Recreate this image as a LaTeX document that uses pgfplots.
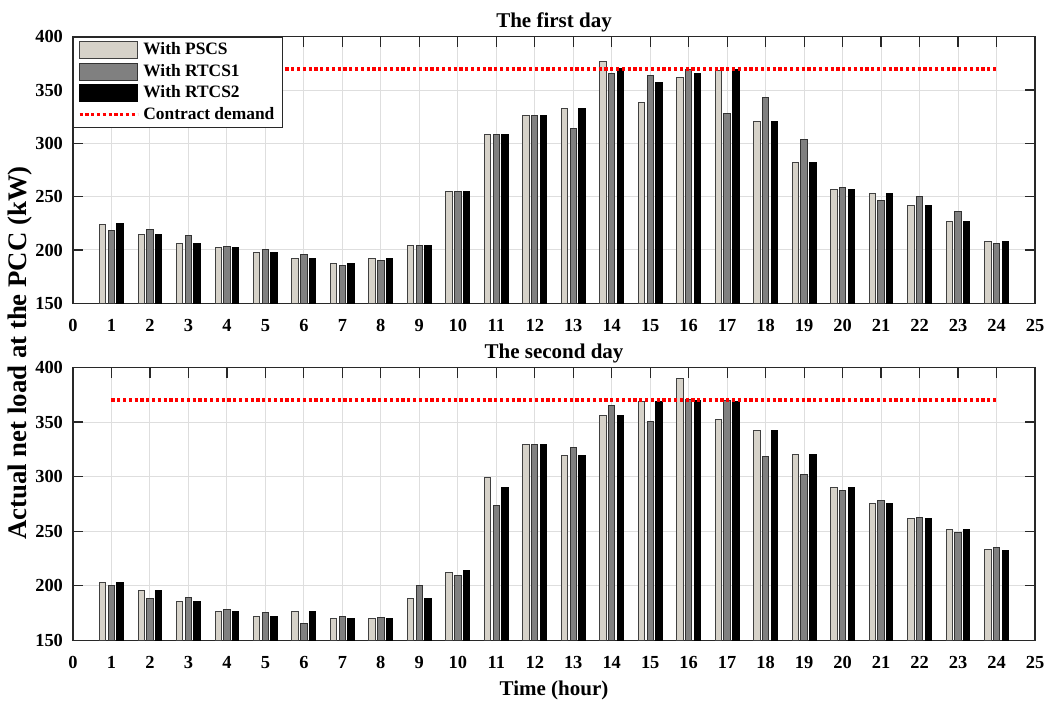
\documentclass[border=0pt]{standalone}
\usepackage{fontspec}
\setmainfont{Liberation Serif}
\usepackage{pgfplots}
\usepackage{pgfplotstable}
\pgfplotsset{compat=1.18}
\definecolor{cPS}{RGB}{214,210,201}
\definecolor{cR1}{RGB}{128,128,128}
\definecolor{gridc}{RGB}{222,222,222}
\definecolor{axc}{RGB}{40,40,40}

\pgfplotstableread{
h p r1 r2
1 224 218 224.5
2 214.7 219.4 214.7
3 206.5 213.7 206.5
4 202.2 203.4 202.2
5 197.2 200.6 197.2
6 192.2 196 192.2
7 187.5 185.6 187.5
8 192.2 190.6 192.2
9 204 204 204
10 254.5 254.5 254.5
11 308 308 308
12 326.5 326.5 326.5
13 332.8 313.7 332.8
14 376.5 365.9 369.8
15 338.4 363.4 357.2
16 361.5 369.6 365.6
17 368.5 328 369
18 320.3 342.8 320.3
19 281.8 304 281.8
20 257 258.7 257
21 253.1 246.6 253.1
22 241.5 250.6 241.5
23 226.9 235.9 226.9
24 207.8 206.2 207.8
}\dayone

\pgfplotstableread{
h p r1 r2
1 202.8 200 202.8
2 195.4 188.7 195.4
3 185.6 189.3 185.6
4 176.5 178.3 176.5
5 171.5 175.8 171.5
6 176.8 165.4 176.8
7 170 171.5 170.2
8 169.7 170.6 170
9 188 200 188
10 212 209 214
11 299.3 273.3 290.4
12 329 329.6 329
13 319.8 326.6 319.8
14 356.3 364.9 356.3
15 369.1 350.4 369
16 390.3 370.4 370
17 352.6 370 369
18 341.9 318.9 341.9
19 320.4 302.4 320.4
20 290.4 287.3 290.4
21 275.1 277.8 275.1
22 261.3 262.9 261.3
23 251.5 249.1 251.2
24 232.8 234.9 232.5
}\daytwo

\pgfplotsset{
  myaxis/.style={
    scale only axis, width=481pt,
    xmin=0, xmax=25, ymin=150, ymax=400,
    xtick={0,1,...,25}, ytick={150,200,...,400},
    grid=major, grid style={gridc, line width=0.5pt},
    tick align=inside, tick pos=both, major tick length=5pt,
    axis line style={axc, line width=0.6pt},
    every tick/.style={axc, line width=0.6pt},
    tick label style={font=\fontsize{9.2}{10}\selectfont\bfseries},
    /pgf/number format/assume math mode=true,
    xticklabel style={yshift=-4.5pt},
    yticklabel style={xshift=-1.5pt},
    title style={at={(0.5,1)}, anchor=base, yshift=-1.3pt, font=\fontsize{10.5}{12}\selectfont\bfseries},
    legend image code/.code={\draw[##1] (0pt,-4.25pt) rectangle (29pt,4.25pt);},
  },
  barA/.style={ybar, bar width=3.2pt, bar shift=-4.35pt, fill=cPS, draw=black!75, line width=0.5pt},
  barB/.style={ybar, bar width=3.2pt, bar shift=0pt, fill=cR1, draw=black!80, line width=0.5pt},
  barC/.style={ybar, bar width=3.2pt, bar shift=4.35pt, fill=black, draw=black, line width=0.5pt},
  cline/.style={red, line width=1.9pt, dash pattern=on 1.6pt off 1.3pt,
    legend image code/.code={\draw[##1] (0pt,0pt) -- (29pt,0pt);}},
}

\begin{document}
\begin{tikzpicture}
\useasboundingbox (0,0) rectangle (523.5pt,351pt);
\begin{axis}[myaxis, height=133.3pt, at={(36.5pt,199.35pt)}, anchor=south west,
  title={The first day},
  legend style={at={(0,1)}, anchor=north west, draw=axc, line width=0.6pt, fill=white,
    font=\fontsize{8.7}{10}\selectfont\bfseries, inner xsep=2pt, inner ysep=1pt,
    row sep=0pt, cells={anchor=west},
    nodes={text height=6.4pt, text depth=1.95pt, inner ysep=1.2pt}},
  legend cell align=left]
\addplot[barA] table[x=h, y=p] {\dayone};
\addlegendentry{With PSCS}
\addplot[barB] table[x=h, y=r1] {\dayone};
\addlegendentry{With RTCS1}
\addplot[barC] table[x=h, y=r2] {\dayone};
\addlegendentry{With RTCS2}
\addplot[cline] coordinates {(1,370) (24,370)};
\addlegendentry{Contract demand}
\end{axis}
\begin{axis}[myaxis, height=136.4pt, at={(36.5pt,30.85pt)}, anchor=south west,
  title={The second day}]
\addplot[barA] table[x=h, y=p] {\daytwo};
\addplot[barB] table[x=h, y=r1] {\daytwo};
\addplot[barC] table[x=h, y=r2] {\daytwo};
\addplot[cline] coordinates {(1,370) (24,370)};
\end{axis}
\node[font=\fontsize{10.5}{12}\selectfont\bfseries] at (277pt,6pt) {Time (hour)};
\node[rotate=90, font=\fontsize{13.4}{15}\selectfont\bfseries] at (10pt,174.5pt) {Actual net load at the PCC (kW)};
\end{tikzpicture}
\end{document}
